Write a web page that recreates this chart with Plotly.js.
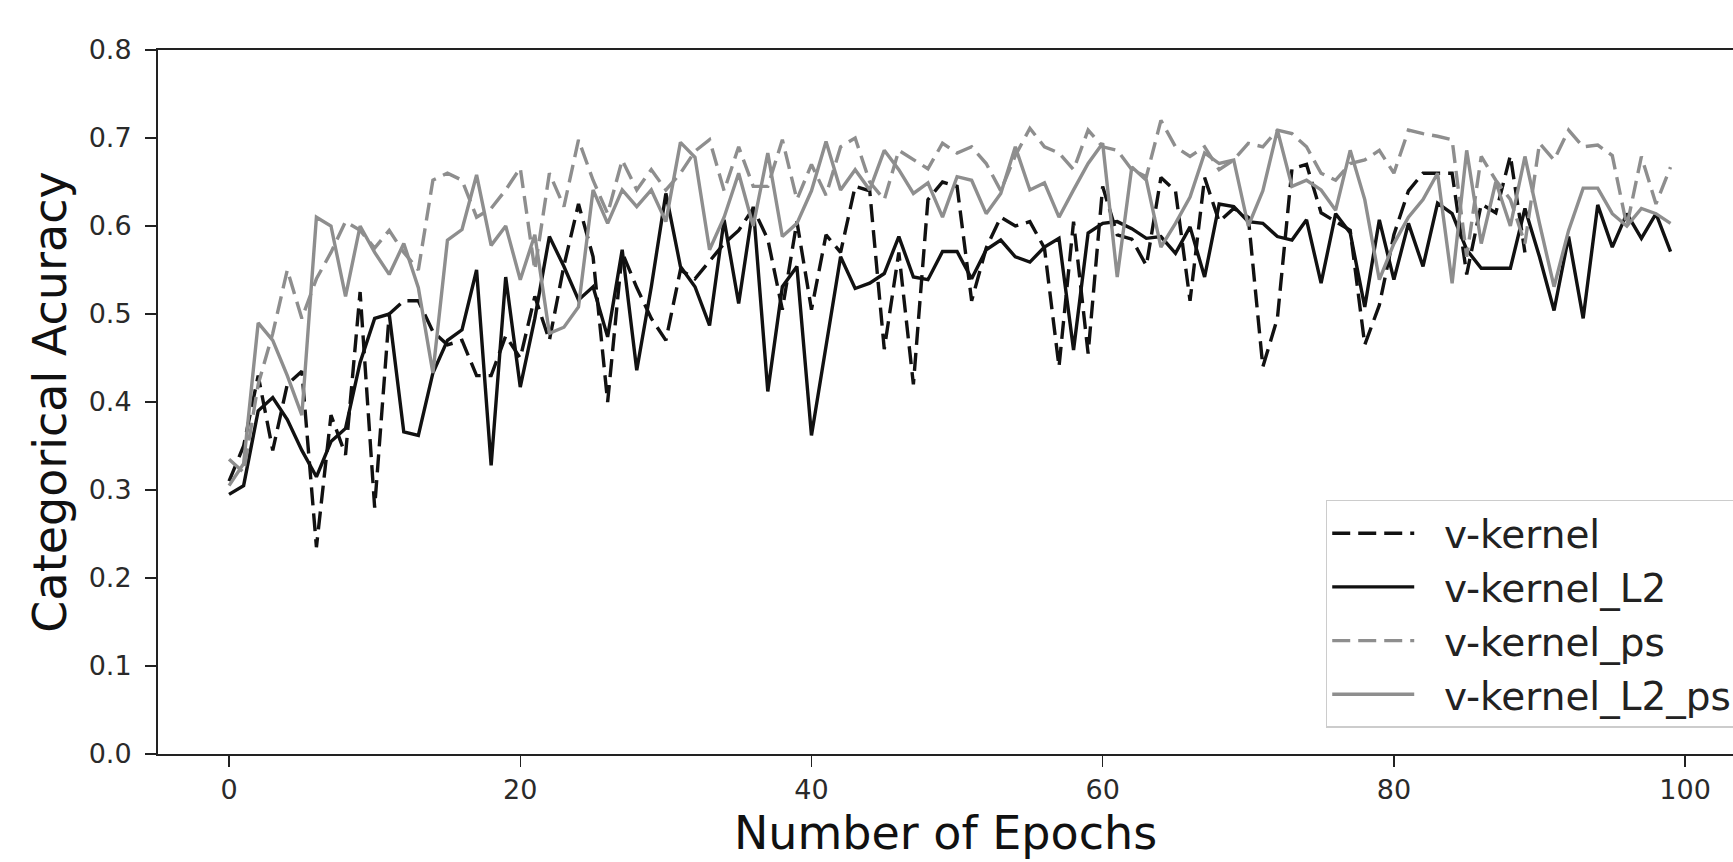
<!DOCTYPE html>
<html>
<head>
<meta charset="utf-8">
<script src="https://cdn.plot.ly/plotly-3.0.1.min.js"></script>
<style>
  html, body { margin: 0; padding: 0; background: #ffffff; overflow: hidden; }
  #chart { width: 1733px; height: 862px; }
</style>
</head>
<body>
<div id="chart"></div>
<script>
// ---- data ----
const seriesNames = ["v-kernel", "v-kernel_L2", "v-kernel_ps", "v-kernel_L2_ps"];

const vKernel = [
  0.31, 0.35, 0.43, 0.345, 0.42, 0.435, 0.235, 0.385, 0.34, 0.525,
  0.28, 0.50, 0.515, 0.515, 0.48, 0.465, 0.47, 0.43, 0.43, 0.475,
  0.45, 0.52, 0.47, 0.555, 0.625, 0.565, 0.40, 0.57, 0.53, 0.495,
  0.47, 0.55, 0.54, 0.56, 0.58, 0.595, 0.62, 0.585, 0.505, 0.605,
  0.505, 0.59, 0.57, 0.645, 0.64, 0.46, 0.57, 0.42, 0.63, 0.65,
  0.645, 0.515, 0.575, 0.61, 0.60, 0.605, 0.575, 0.44, 0.605, 0.455,
  0.645, 0.59, 0.585, 0.555, 0.655, 0.64, 0.515, 0.655, 0.605, 0.62,
  0.61, 0.44, 0.495, 0.665, 0.67, 0.615, 0.605, 0.595, 0.465, 0.51,
  0.59, 0.64, 0.66, 0.66, 0.66, 0.545, 0.625, 0.615, 0.68, 0.57
];

const vKernelL2 = [
  0.295, 0.305, 0.39, 0.405, 0.38, 0.345, 0.315, 0.355, 0.37, 0.445,
  0.495, 0.50, 0.366, 0.362, 0.433, 0.47, 0.482, 0.55, 0.328, 0.542,
  0.417, 0.495, 0.588, 0.554, 0.516, 0.531, 0.474, 0.573, 0.436, 0.531,
  0.637, 0.554, 0.531, 0.487, 0.607, 0.512, 0.622, 0.412, 0.531, 0.554,
  0.362, 0.463, 0.565, 0.529, 0.535, 0.546, 0.588, 0.542, 0.539, 0.571,
  0.571, 0.540, 0.573, 0.584, 0.565, 0.559, 0.576, 0.586, 0.459, 0.592,
  0.603, 0.605, 0.597, 0.586, 0.588, 0.569, 0.599, 0.542, 0.625, 0.622,
  0.605, 0.603, 0.588, 0.584, 0.607, 0.535, 0.614, 0.592, 0.508, 0.607,
  0.539, 0.603, 0.554, 0.626, 0.614, 0.573, 0.552, 0.552, 0.552, 0.620,
  0.565, 0.504, 0.588, 0.495, 0.624, 0.576, 0.614, 0.586, 0.614, 0.571
];

const vKernelPs = [
  0.335, 0.32, 0.42, 0.478, 0.55, 0.495, 0.54, 0.57, 0.605, 0.595,
  0.575, 0.595, 0.57, 0.55, 0.652, 0.66, 0.652, 0.61, 0.62, 0.641,
  0.666, 0.55, 0.66, 0.622, 0.698, 0.652, 0.614, 0.675, 0.641, 0.664,
  0.641, 0.66, 0.685, 0.698, 0.64, 0.69, 0.645, 0.645, 0.698, 0.63,
  0.67, 0.635, 0.69, 0.70, 0.65, 0.63, 0.686, 0.675, 0.665, 0.694,
  0.683, 0.69, 0.671, 0.64, 0.68, 0.711, 0.69, 0.683, 0.664, 0.709,
  0.69, 0.686, 0.664, 0.656, 0.72, 0.69, 0.679, 0.69, 0.664, 0.675,
  0.694, 0.69, 0.709, 0.705, 0.69, 0.66, 0.652, 0.671, 0.675, 0.686,
  0.66, 0.709, 0.705, 0.702, 0.698, 0.565, 0.679, 0.652, 0.63, 0.58,
  0.694, 0.675, 0.709, 0.69, 0.692, 0.68, 0.60, 0.679, 0.625, 0.667
];

const vKernelL2Ps = [
  0.305, 0.33, 0.49, 0.47, 0.43, 0.385, 0.61, 0.60, 0.52, 0.60,
  0.57, 0.545, 0.58, 0.53, 0.433, 0.584, 0.596, 0.658, 0.578, 0.60,
  0.539, 0.59, 0.478, 0.485, 0.508, 0.641, 0.603, 0.641, 0.622, 0.641,
  0.605, 0.695, 0.678, 0.573, 0.61, 0.66, 0.60, 0.683, 0.588, 0.603,
  0.64, 0.696, 0.641, 0.664, 0.641, 0.686, 0.664, 0.637, 0.649, 0.61,
  0.656, 0.652, 0.614, 0.637, 0.69, 0.641, 0.649, 0.61, 0.641, 0.671,
  0.694, 0.542, 0.667, 0.652, 0.576, 0.603, 0.633, 0.683, 0.671, 0.675,
  0.60, 0.64, 0.709, 0.645, 0.652, 0.641, 0.618, 0.686, 0.63, 0.539,
  0.58, 0.61, 0.63, 0.66, 0.535, 0.686, 0.58, 0.65, 0.60, 0.679,
  0.603, 0.531, 0.595, 0.643, 0.643, 0.614, 0.60, 0.62, 0.614, 0.603
];

const xTicks = [0, 20, 40, 60, 80, 100];
const yTicks = [0.0, 0.1, 0.2, 0.3, 0.4, 0.5, 0.6, 0.7, 0.8];
const yTickText = ["0.0", "0.1", "0.2", "0.3", "0.4", "0.5", "0.6", "0.7", "0.8"];

// epoch index for each series
const epochsOf = arr => arr.map((_, i) => i);

const FONT = "DejaVu Sans, Liberation Sans, sans-serif";
const DASH = "18px,8px";
const NB = "\u00a0";
// legend label: small lead gap after the line sample
const legendLabel = s => NB + NB + s;

const traces = [
  { y: vKernel,     name: legendLabel(seriesNames[0]), line: { color: "#111111", width: 3.4, dash: DASH } },
  { y: vKernelL2,   name: legendLabel(seriesNames[1]), line: { color: "#111111", width: 3.4 } },
  { y: vKernelPs,   name: legendLabel(seriesNames[2]), line: { color: "#8e8e8e", width: 3.4, dash: DASH } },
  { y: vKernelL2Ps, name: legendLabel(seriesNames[3]), line: { color: "#8e8e8e", width: 3.4 } }
].map(t => Object.assign({ type: "scatter", mode: "lines", x: epochsOf(t.y) }, t));

const layout = {
  width: 1733,
  height: 862,
  margin: { l: 158, r: 0, t: 50, b: 108, pad: 0, autoexpand: false },
  paper_bgcolor: "#ffffff",
  plot_bgcolor: "#ffffff",
  showlegend: true,
  font: { family: FONT, color: "#222222" },
  xaxis: {
    range: [-4.88, 103.29],
    tickvals: xTicks,
    ticktext: xTicks.map(String),
    ticks: "outside",
    ticklen: 11,
    tickwidth: 1.5,
    tickcolor: "#222222",
    tickfont: { size: 27, family: FONT, color: "#2a2a2a" },
    showgrid: false,
    zeroline: false,
    showline: true,
    mirror: true,
    linecolor: "#222222",
    linewidth: 2,
    title: { text: "Number of Epochs", font: { size: 46, family: FONT, color: "#111111" }, standoff: 12 }
  },
  yaxis: {
    range: [0, 0.8],
    tickvals: yTicks,
    ticktext: yTickText,
    ticks: "outside",
    ticklen: 11,
    tickwidth: 1.5,
    tickcolor: "#222222",
    tickfont: { size: 27, family: FONT, color: "#2a2a2a" },
    ticklabelstandoff: 8,
    showgrid: false,
    zeroline: false,
    showline: true,
    mirror: false,
    linecolor: "#222222",
    linewidth: 2,
    title: { text: "Categorical Acuracy", font: { size: 46, family: FONT, color: "#111111" }, standoff: 8 }
  },
  legend: {
    x: 1.003,
    y: 0.361,
    xanchor: "right",
    yanchor: "top",
    bgcolor: "#ffffff",
    bordercolor: "#cccccc",
    borderwidth: 1.5,
    font: { size: 39, family: FONT, color: "#222222" },
    itemwidth: 82,
    tracegroupgap: 0
  }
};

Plotly.newPlot("chart", traces, layout, { staticPlot: true, displayModeBar: false });
</script>
</body>
</html>
